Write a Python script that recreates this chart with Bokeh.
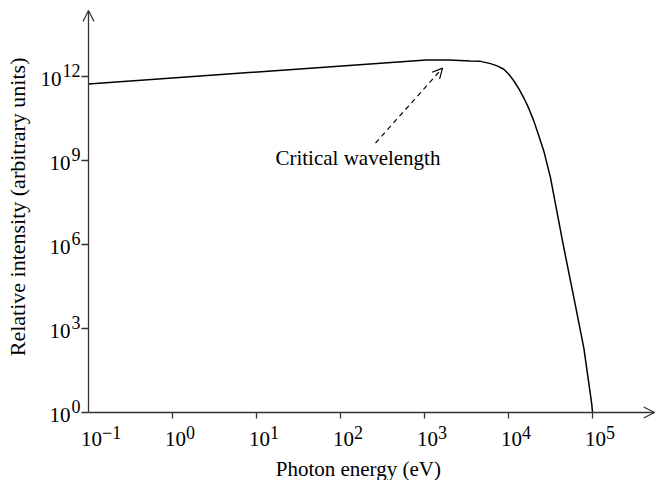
import math
from bokeh.plotting import figure
from bokeh.models import Range1d, Arrow, OpenHead
from bokeh.core.properties import value
from bokeh.embed import file_html
from bokeh.resources import INLINE

# Curve (photon energy in eV, relative intensity)
energy_eV = [1.0e-1, 1.05e3, 1.95e3, 3.53e3, 4.65e3, 6.11e3, 7.33e3, 8.79e3,
             1.01e4, 1.16e4, 1.33e4, 1.52e4, 1.75e4, 2.0e4, 2.3e4, 2.63e4,
             3.16e4, 4.55e4, 6.0e4, 7.89e4, 9.8e4, 1.0e5]
intensity = [5.4e11, 3.9e12, 3.85e12, 3.55e12, 3.47e12, 2.88e12, 2.4e12, 1.82e12,
             1.2e12, 6.9e11, 3.6e11, 1.74e11, 7.1e10, 2.6e10, 7.5e9, 2.2e9,
             2.45e8, 7.8e5, 1.26e4, 2.0e2, 2.0, 1.0]

x_ticks = [1e-1, 1e0, 1e1, 1e2, 1e3, 1e4, 1e5]
x_tick_exponents = ["\u22121", "0", "1", "2", "3", "4", "5"]
y_ticks = [1e0, 1e3, 1e6, 1e9, 1e12]
y_tick_exponents = ["0", "3", "6", "9", "12"]
tick_base = "10"

x_label = "Photon energy (eV)"
y_label = "Relative intensity (arbitrary units)"
note_text = "Critical wavelength"
note_pos = (16.8, 1.2e9)
arrow_from = (261.0, 4.2e9)
arrow_to = (1640.0, 2.0e12)
x_label_pos = (163.0, 1.0)      # anchored on the x axis, shifted down below
y_label_pos = (1e-1, 2.2e7)     # anchored on the y axis, shifted left

# axis origin and arrow ends (data units)
x0, y0 = 1e-1, 1e0
x_arrow_end, y_arrow_end = 10 ** 5.74, 10 ** 14.36

# visible window (whole canvas is the plotting frame)
x_lo, x_hi = 10 ** (-1 - 88 / 84), 10 ** (-1 + 567 / 84)
y_lo, y_hi = 10 ** (-68 / 28), 10 ** (412 / 28)

FONT = "Liberation Serif"
AX = "#333333"
BASE_PX = 21
EXP_PX = 18

p = figure(width=655, height=480, x_axis_type="log", y_axis_type="log",
           x_range=Range1d(x_lo, x_hi), y_range=Range1d(y_lo, y_hi),
           x_axis_location=None, y_axis_location=None,
           output_backend="svg", toolbar_location=None, min_border=0)
p.outline_line_color = None
p.xgrid.grid_line_color = None
p.ygrid.grid_line_color = None
p.background_fill_color = "white"
p.border_fill_color = "white"

# axes: arrows and tick marks
p.add_layout(Arrow(x_start=x0, y_start=y0, x_end=x_arrow_end, y_end=y0,
                   line_color=AX, line_width=1.3,
                   end=OpenHead(size=11, line_color=AX, line_width=1.3)))
p.add_layout(Arrow(x_start=x0, y_start=y0, x_end=x0, y_end=y_arrow_end,
                   line_color=AX, line_width=1.3,
                   end=OpenHead(size=11, line_color=AX, line_width=1.3)))
p.ray(x=x_ticks[1:], y=[y0] * (len(x_ticks) - 1), length=6, length_units="screen",
      angle=-math.pi / 2, line_color=AX, line_width=1.3)
p.ray(x=[x0] * len(y_ticks), y=y_ticks, length=7, length_units="screen",
      angle=math.pi, line_color=AX, line_width=1.3)

# tick labels: "10" with a raised exponent
p.text(x=x_ticks, y=[y0] * len(x_ticks), text=[tick_base] * len(x_ticks),
       x_offset=3, y_offset=26, text_align="center", text_baseline="alphabetic",
       text_font=value(FONT), text_font_size=value(f"{BASE_PX}px"), text_color="black")
p.text(x=x_ticks, y=[y0] * len(x_ticks), text=x_tick_exponents,
       x_offset=3 + BASE_PX / 2, y_offset=20, text_align="left",
       text_baseline="alphabetic",
       text_font=value(FONT), text_font_size=value(f"{EXP_PX}px"), text_color="black")

exp_widths = [len(e) * EXP_PX * 0.5 + 1 for e in y_tick_exponents]
p.text(x=[x0] * len(y_ticks), y=y_ticks, text=[tick_base] * len(y_ticks),
       x_offset=[-8 - w for w in exp_widths], y_offset=2, text_align="right",
       text_baseline="alphabetic",
       text_font=value(FONT), text_font_size=value(f"{BASE_PX}px"), text_color="black")
p.text(x=[x0] * len(y_ticks), y=y_ticks, text=y_tick_exponents,
       x_offset=-8, y_offset=-6, text_align="right", text_baseline="alphabetic",
       text_font=value(FONT), text_font_size=value(f"{EXP_PX}px"), text_color="black")

# axis titles
p.text(x=[x_label_pos[0]], y=[x_label_pos[1]], text=[x_label], x_offset=0, y_offset=56,
       text_align="center", text_baseline="alphabetic",
       text_font=value(FONT), text_font_size=value("21px"), text_color="black")
p.text(x=[y_label_pos[0]], y=[y_label_pos[1]], text=[y_label], x_offset=-71, y_offset=0,
       angle=math.pi / 2, text_align="center", text_baseline="middle",
       text_font=value(FONT), text_font_size=value("22px"), text_color="black")

# the spectrum
p.line(energy_eV, intensity, line_color="black", line_width=1.5)

# annotation
p.add_layout(Arrow(x_start=arrow_from[0], y_start=arrow_from[1],
                   x_end=arrow_to[0], y_end=arrow_to[1],
                   line_color="black", line_width=1.2, line_dash="5 4",
                   end=OpenHead(size=10, line_color="black", line_width=1.2)))
p.text(x=[note_pos[0]], y=[note_pos[1]], text=[note_text],
       text_align="left", text_baseline="alphabetic",
       text_font=value(FONT), text_font_size=value("21px"), text_color="black")

open("out.html", "w").write(file_html(p, INLINE))
